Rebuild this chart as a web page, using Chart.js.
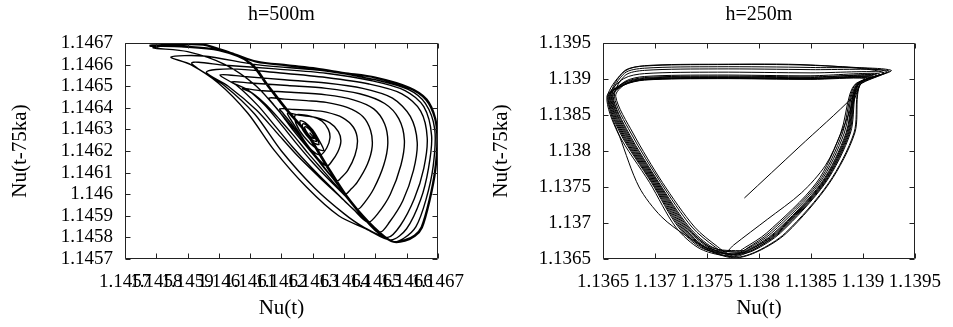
<!DOCTYPE html>
<html><head><meta charset="utf-8">
<script src="https://cdn.jsdelivr.net/npm/chart.js@4"></script>
<style>
html,body{margin:0;padding:0;background:#fff;}
#wrap{position:relative;width:953px;height:327px;overflow:hidden;}
canvas{position:absolute;top:0;}
#c1{left:0;} #c2{left:476px;}
</style></head><body>
<div id="wrap"><canvas id="c1" width="476" height="327" style="width:476px;height:327px"></canvas><canvas id="c2" width="477" height="327" style="width:477px;height:327px"></canvas></div>
<script>
// ---- Left panel (h=500m): Nu(t) vs Nu(t-75ka), spiral growing to a limit cycle ----
const leftTitle = 'h=500m';
const leftTicks = [1.1457,1.1458,1.1459,1.146,1.1461,1.1462,1.1463,1.1464,1.1465,1.1466,1.1467];
const leftTickLabels = ['1.1457','1.1458','1.1459','1.146','1.1461','1.1462','1.1463','1.1464','1.1465','1.1466','1.1467'];
const leftNu = [
  1.14629,
  1.146305,1.146297,1.146285,1.146276,1.146275,1.146283,1.146295,1.146304,
  1.146312,1.1463,1.146283,1.146269,1.146268,1.14628,1.146298,1.146311,
  1.14632,1.146304,1.14628,1.146262,1.14626,1.146276,1.1463,1.146318,
  1.146335,1.14631,1.146273,1.146246,1.146245,
  1.146295,1.14633,1.14635,1.146355,1.146345,1.146325,1.146298,1.146272,1.14625,1.14623,1.14622,
  1.14626,1.14631,1.146355,1.146382,1.14639,1.14638,1.14636,1.146345,1.14632,1.146292,1.14626,1.14623,1.146205,1.146195,
  1.14624,1.1463,1.146343,1.146395,1.14643,1.146443,1.146435,1.146412,1.14639,1.146377,1.146352,1.146315,1.146275,1.146235,1.1462,1.146175,1.14616,
  1.14621,1.14628,1.146343,1.14641,1.14646,1.146485,1.14649,1.146475,1.146442,1.14642,1.146403,1.146372,1.14633,1.146285,1.14624,1.146195,1.14615,1.14611,1.146076,
  1.14613,1.14623,1.146343,1.14643,1.146495,1.14653,1.14654,1.146527,1.146495,1.146465,1.146443,1.146405,1.14635,1.146295,1.146245,1.146195,1.146145,1.14609,1.14604,
  1.1461,1.14622,1.146343,1.14645,1.14653,1.146575,1.146593,1.146582,1.146548,1.146508,1.146477,1.14643,1.14636,1.146295,1.146235,1.14618,1.146125,1.14606,1.146004,
  1.14608,1.14621,1.146343,1.14646,1.146555,1.146612,1.146634,1.146622,1.146588,1.146545,1.146515,1.14646,1.14639,1.14632,1.14625,1.146185,1.14612,1.14603,1.14596,
  1.14604,1.14619,1.146343,1.14648,1.146585,1.146645,1.146666,1.146655,1.146625,1.14658,1.14654,1.14646,1.1464,1.146305,1.1462,1.146115,1.14602,1.145913,
  1.14602,1.14618,1.146343,1.14649,1.146595,1.146655,1.14668,1.14667,1.146645,1.1466,1.14655,1.14647,1.146383,1.14628,1.146176,1.146092,1.145998,1.14591,1.145847,
  1.14595,1.14612,1.146343,1.1465,1.146605,1.14666,1.14669,1.146685,1.146662,1.14663,1.14659,1.146555,1.146495,1.14642,1.14635,1.146275,1.1462,1.14612,1.14602,1.1459,1.14579,
  1.14585,1.14595,1.14605,1.14612,1.14622,1.146311,1.1464,1.1465,1.146609,1.146662,1.14669,1.146697,1.14669,1.146672,1.146647,1.146625,1.146593,1.14656,1.14652,1.146484,1.146405,1.146343,1.14628,1.146217,1.146155,1.1461,1.146,1.14588,1.14578,
  1.14585,1.14595,1.14605,1.14612,1.14622,1.146311,1.1464,1.1465,1.146609,1.146665,1.146693,1.146699,1.146693,1.146675,1.14665,1.146627,1.146595,1.146558,1.146518,1.146482,1.146403,1.146341,1.146278,1.146215,1.146153,1.146098,1.146,1.14588,1.14578,
  1.14585,1.14595,1.14605,1.14612,1.14622,1.146311,1.1464,1.1465,1.146609,1.146664,1.146692,1.146698,1.146691,1.146673,1.146648,1.146626,1.146594,1.146559,1.146522,1.146487,1.146408,1.146346,1.146283,1.14622,1.146158,1.146103,1.146,1.14588,1.14578
];
const leftNuLag = [
  1.146285,
  1.146258,1.146262,1.146279,1.1463,1.146312,1.146308,1.146291,1.14627,
  1.146245,1.14625,1.146276,1.146307,1.146325,1.14632,1.146294,1.146263,
  1.14623,1.146238,1.146273,1.146315,1.14634,1.146332,1.146297,1.146255,
  1.146203,1.146213,1.146265,1.146329,1.146367,
  1.14636,1.146338,1.1463,1.14626,1.146215,1.146182,1.146202,1.14625,1.1463,1.146345,1.146375,
  1.146365,1.146355,1.14633,1.14629,1.146245,1.146195,1.14615,1.14613,1.14616,1.14621,1.14627,1.14633,1.146375,1.146395,
  1.146392,1.146388,1.14638,1.146355,1.14631,1.14625,1.14618,1.14611,1.146075,1.14606,1.146095,1.14616,1.14623,1.1463,1.14637,1.146415,1.146445,
  1.14644,1.146433,1.146425,1.146402,1.14636,1.146295,1.14622,1.14614,1.146055,1.14602,1.146,1.146045,1.146115,1.14619,1.14627,1.146345,1.146415,1.146465,1.14649,
  1.14648,1.146472,1.14646,1.146437,1.146395,1.146325,1.146235,1.146135,1.146025,1.14596,1.14593,1.14599,1.14607,1.146155,1.14624,1.14633,1.146415,1.146485,1.14652,
  1.146515,1.146503,1.14649,1.146465,1.14642,1.14635,1.14625,1.146135,1.146,1.14591,1.14587,1.14593,1.14603,1.146125,1.14622,1.146315,1.14641,1.1465,1.146552,
  1.146545,1.14653,1.146515,1.14649,1.146445,1.14636,1.14624,1.14611,1.14597,1.14587,1.145825,1.14589,1.145985,1.14608,1.14618,1.146285,1.14639,1.1465,1.146565,
  1.14658,1.146562,1.14654,1.14651,1.146465,1.146385,1.14626,1.14612,1.14598,1.145855,1.1458,1.14585,1.14591,1.14603,1.1462,1.14637,1.1465,1.146607,
  1.146597,1.14658,1.14656,1.146525,1.14648,1.146405,1.14627,1.14612,1.145975,1.14584,1.145788,1.14584,1.1459,1.146033,1.146205,1.146376,1.146515,1.1466,1.146635,
  1.14664,1.1466,1.14657,1.14653,1.146485,1.14642,1.1463,1.14613,1.145975,1.14585,1.145795,1.145782,1.14585,1.14597,1.1461,1.14624,1.14637,1.1465,1.1466,1.14666,1.146678,
  1.14669,1.14669,1.146645,1.146612,1.146595,1.14658,1.14656,1.146538,1.14649,1.146436,1.14635,1.14625,1.14611,1.145973,1.145848,1.14581,1.145788,1.14578,1.14581,1.145857,1.145996,1.146135,1.146283,1.14639,1.146505,1.146607,1.146665,1.146682,1.146686,
  1.146695,1.146695,1.14665,1.146616,1.146598,1.146583,1.146563,1.146542,1.146495,1.14644,1.14635,1.14625,1.14611,1.145973,1.145845,1.145805,1.145783,1.145778,1.14581,1.145857,1.145996,1.146135,1.146283,1.14639,1.146505,1.146607,1.146668,1.146686,1.14669,
  1.146692,1.146692,1.146648,1.146614,1.146597,1.146582,1.146562,1.14654,1.146493,1.146438,1.14635,1.14625,1.14611,1.145973,1.145846,1.145808,1.145785,1.145779,1.14581,1.145857,1.145996,1.146135,1.146283,1.14639,1.146505,1.146607,1.146666,1.146684,1.146688
];

// ---- Right panel (h=250m): transient then repeated triangular cycles ----
const rightTitle = 'h=250m';
const rightTicks = [1.1365,1.137,1.1375,1.138,1.1385,1.139,1.1395];
const rightTickLabels = ['1.1365','1.137','1.1375','1.138','1.1385','1.139','1.1395'];
const rightNu = [
  1.13786,1.138385,1.13891,1.13898,1.1392,1.1385,1.1376,1.1369,1.13671,1.13655,1.13657,1.13666,1.136847,1.13706,1.137316,1.13754,1.13766,1.137757,1.13808,1.13841,1.13864,1.13879,
  1.138935,1.138975,1.13906,1.1385,1.1376,1.1369,1.136695,1.136538,1.136644,1.136949,1.137199,1.137436,
  1.137734,1.13792,1.13817,1.138616,1.138855,1.138911,1.13896,1.13913,1.1385,1.1376,1.1369,1.1367,1.136562,1.136685,1.136984,1.137251,1.137484,
  1.137758,1.137991,1.138266,1.138679,1.138922,1.138949,1.138984,1.13927,1.1385,1.1376,1.1369,1.136707,1.136586,1.136726,1.13702,1.137303,1.137532,
  1.137722,1.137886,1.138122,1.138584,1.138821,1.138892,1.138948,1.13902,1.1385,1.1376,1.1369,1.136698,1.13655,1.136665,1.136967,1.137225,1.13746,
  1.137797,1.137954,1.138206,1.138639,1.13888,1.138925,1.138969,1.13916,1.1385,1.1376,1.1369,1.13671,1.136598,1.136747,1.137038,1.137329,1.137556,
  1.137782,1.13786,1.138074,1.138552,1.138787,1.138873,1.138936,1.13923,1.1385,1.1376,1.1369,1.136704,1.136574,1.136706,1.137002,1.137277,1.137508,
  1.137851,1.137944,1.138182,1.138623,1.138863,1.138916,1.138963,1.13908,1.1385,1.1376,1.1369,1.136716,1.136622,1.136788,1.137073,1.137381,1.137604,
  1.137728,1.137903,1.138146,1.1386,1.138838,1.138902,1.138954,1.1392,1.1385,1.1376,1.1369,1.136699,1.136556,1.136675,1.136975,1.137238,1.137472,
  1.137773,1.137984,1.138254,1.138671,1.138914,1.138944,1.138981,1.13904,1.1385,1.1376,1.1369,1.136708,1.136592,1.136737,1.137029,1.137316,1.137544,
  1.137848,1.137885,1.138098,1.138568,1.138804,1.138883,1.138942,1.13925,1.1385,1.1376,1.1369,1.136713,1.13661,1.136768,1.137056,1.137355,1.13758,
  1.13774,1.137938,1.138194,1.138631,1.138871,1.13892,1.138966,1.1391,1.1385,1.1376,1.1369,1.136702,1.136568,1.136695,1.136993,1.137264,1.137496,
  1.137773,1.137917,1.138158,1.138608,1.138846,1.138906,1.138957,1.13906,1.1385,1.1376,1.1369,1.136705,1.13658,1.136716,1.137011,1.13729,1.13752,1.13774
];
const rightNuLag = [
  1.137347,1.138053,1.13876,1.13893,1.13909,1.139195,1.139205,1.139185,1.13911,1.1388,1.13855,1.1382,1.1375,1.13709,1.136806,1.13662,1.13657,1.136694,1.13705,1.13742,1.1378,1.13825,
  1.13878,1.13894,1.139027,1.139005,1.139015,1.138995,1.138925,1.13876,1.13825,1.13756,1.136944,1.136641,
  1.13654,1.13663,1.136861,1.137556,1.13825,1.13878,1.13894,1.139059,1.13902,1.13903,1.13901,1.13894,1.13876,1.13825,1.13756,1.136944,1.136649,
  1.136515,1.136606,1.136861,1.137556,1.13825,1.13878,1.13894,1.139122,1.13916,1.13917,1.13915,1.13908,1.13876,1.13825,1.13756,1.136944,1.136657,
  1.136561,1.136642,1.136861,1.137556,1.13825,1.13878,1.13894,1.139009,1.138995,1.139005,1.138985,1.138915,1.13876,1.13825,1.13756,1.136944,1.136645,
  1.136565,1.136621,1.136861,1.137556,1.13825,1.13878,1.13894,1.139072,1.139045,1.139055,1.139035,1.138965,1.13876,1.13825,1.13756,1.136944,1.136661,
  1.136596,1.136654,1.136861,1.137556,1.13825,1.13878,1.13894,1.139104,1.13919,1.1392,1.13918,1.13911,1.13876,1.13825,1.13756,1.136944,1.136653,
  1.136592,1.136627,1.136861,1.137556,1.13825,1.13878,1.13894,1.139036,1.13901,1.13902,1.139,1.13893,1.13876,1.13825,1.13756,1.136944,1.136669,
  1.136556,1.136636,1.136861,1.137556,1.13825,1.13878,1.13894,1.13909,1.139085,1.139095,1.139075,1.139005,1.13876,1.13825,1.13756,1.136944,1.136647,
  1.136525,1.136609,1.136861,1.137556,1.13825,1.13878,1.13894,1.139018,1.139,1.13901,1.13899,1.13892,1.13876,1.13825,1.13756,1.136944,1.136659,
  1.136615,1.136648,1.136861,1.137556,1.13825,1.13878,1.13894,1.139113,1.13913,1.13914,1.13912,1.13905,1.13876,1.13825,1.13756,1.136944,1.136665,
  1.13653,1.136624,1.136861,1.137556,1.13825,1.13878,1.13894,1.139045,1.13903,1.13904,1.13902,1.13895,1.13876,1.13825,1.13756,1.136944,1.136651,
  1.13657,1.136633,1.136861,1.137556,1.13825,1.13878,1.13894,1.139027,1.139005,1.139015,1.138995,1.138925,1.13876,1.13825,1.13756,1.136944,1.136655,1.13655
];

const SERIF = '"Liberation Serif", "Times New Roman", serif';

const framePlugin = {
  id: 'frame',
  afterDraw(chart, args, opts) {
    const {ctx, chartArea: a, scales} = chart;
    const x = scales.x, y = scales.y;
    ctx.save();
    ctx.strokeStyle = '#222';
    ctx.lineWidth = 1;
    ctx.beginPath();
    const L = Math.round(a.left) + 0.5, R = Math.round(a.right) - 0.5;
    const T = Math.round(a.top) + 0.5, B = Math.round(a.bottom) - 0.5;
    ctx.rect(L, T, R - L, B - T);
    x.ticks.forEach(t => {
      const px = Math.round(x.getPixelForValue(t.value)) + 0.5;
      ctx.moveTo(px, B); ctx.lineTo(px, B - 5);
      ctx.moveTo(px, T); ctx.lineTo(px, T + 5);
    });
    y.ticks.forEach(t => {
      const py = Math.round(y.getPixelForValue(t.value)) + 0.5;
      ctx.moveTo(L, py); ctx.lineTo(L + 5, py);
      ctx.moveTo(R, py); ctx.lineTo(R - 5, py);
    });
    ctx.stroke();
    ctx.fillStyle = '#000';
    ctx.font = '20px ' + SERIF;
    ctx.textAlign = 'center';
    ctx.textBaseline = 'middle';
    ctx.fillText(opts.text, (a.left + a.right) / 2, 15);
    ctx.restore();
  }
};

function makeChart(id, xs, ys, ticks, labels, title, yWidth, padRight, yTitlePad, lw) {
  const pts = xs.map((v, i) => ({x: v, y: ys[i]}));
  const tickFont = {family: SERIF, size: 19};
  const titleFont = {family: SERIF, size: 21};
  return new Chart(document.getElementById(id), {
    type: 'scatter',
    data: {datasets: [{data: pts, showLine: true, borderColor: '#000', borderWidth: lw,
      pointRadius: 0, pointHoverRadius: 0, tension: 0.3, fill: false}]},
    options: {
      responsive: false, animation: false, devicePixelRatio: 1,
      layout: {padding: {top: 43, right: padRight, left: 0, bottom: 0}},
      plugins: {legend: {display: false}, tooltip: {enabled: false}, title: {display: false},
        frame: {text: title}},
      scales: {
        x: {type: 'linear', min: ticks[0], max: ticks[ticks.length - 1],
          afterBuildTicks: s => { s.ticks = ticks.map(v => ({value: v})); },
          afterFit: s => { s.height = 68; },
          grid: {display: false, drawTicks: false}, border: {display: false},
          ticks: {autoSkip: false, maxRotation: 0, minRotation: 0, padding: 12, color: '#000',
            font: tickFont, callback: (v, i) => labels[i]},
          title: {display: true, text: 'Nu(t)', color: '#000', font: titleFont, padding: {top: 0, bottom: 6}}},
        y: {type: 'linear', min: ticks[0], max: ticks[ticks.length - 1],
          afterBuildTicks: s => { s.ticks = ticks.map(v => ({value: v})); },
          afterFit: s => { s.width = yWidth; },
          grid: {display: false, drawTicks: false}, border: {display: false},
          ticks: {autoSkip: false, padding: 12, color: '#000', font: tickFont,
            callback: (v, i) => labels[i]},
          title: {display: true, text: 'Nu(t-75ka)', color: '#000', font: titleFont, padding: {top: yTitlePad, bottom: 0}}}
      }
    },
    plugins: [framePlugin]
  });
}

makeChart('c1', leftNu, leftNuLag, leftTicks, leftTickLabels, leftTitle, 125, 32, 8, 1.4);
makeChart('c2', rightNu, rightNuLag, rightTicks, rightTickLabels, rightTitle, 127, 30, 13, 1.0);
</script>
</body></html>
